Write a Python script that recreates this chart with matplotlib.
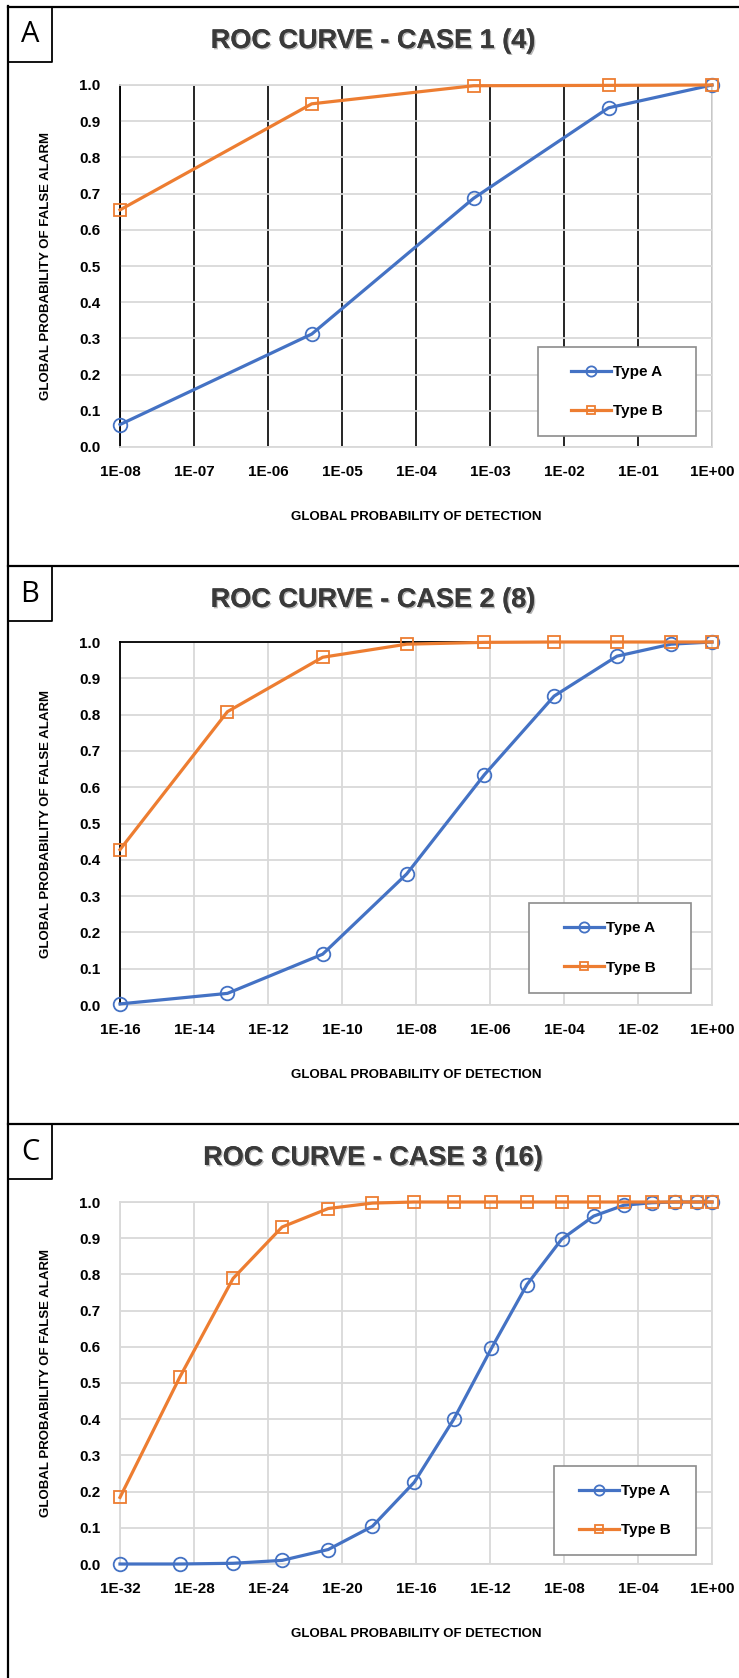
import numpy as np
import matplotlib
matplotlib.use("Agg")
import matplotlib.pyplot as plt
from matplotlib import font_manager
from matplotlib.lines import Line2D
from matplotlib.patches import Rectangle
from matplotlib.ticker import FixedLocator, FuncFormatter, NullLocator
import matplotlib.patheffects as pe

# ---------------- data ----------------
titles = ["ROC CURVE - CASE 1 (4)", "ROC CURVE - CASE 2 (8)", "ROC CURVE - CASE 3 (16)"]
panel_letters = ["A", "B", "C"]
x_label = "GLOBAL PROBABILITY OF DETECTION"
y_label = "GLOBAL PROBABILITY OF FALSE ALARM"
series_names = ["Type A", "Type B"]

case1_x = [1e-8, 3.9e-6, 6.0e-4, 4.0e-2, 1.0]
case1_type_a = [0.062, 0.312, 0.687, 0.937, 1.0]
case1_type_b = [0.655, 0.948, 0.998, 0.999, 1.0]
case1_tick_exp = [-8, -7, -6, -5, -4, -3, -2, -1, 0]

case2_x = [1e-16, 8e-14, 3e-11, 5.6e-9, 7e-7, 5.4e-5, 2.7e-3, 7.8e-2, 1.0]
case2_type_a = [0.003, 0.032, 0.14, 0.361, 0.634, 0.851, 0.961, 0.994, 1.0]
case2_type_b = [0.428, 0.808, 0.958, 0.994, 0.999, 1.0, 1.0, 1.0, 1.0]
case2_tick_exp = [-16, -14, -12, -10, -8, -6, -4, -2, 0]

case3_x = [1e-32, 1.7e-29, 1.3e-26, 5.8e-24, 1.8e-21, 4.4e-19, 8.1e-17, 1.1e-14,
           1.2e-12, 1.0e-10, 7.4e-9, 4.0e-7, 1.7e-5, 5.5e-4, 1.0e-2, 1.5e-1, 1.0]
case3_type_a = [0.0, 0.0, 0.002, 0.01, 0.04, 0.104, 0.226, 0.40,
                0.596, 0.772, 0.897, 0.961, 0.991, 0.998, 1.0, 1.0, 1.0]
case3_type_b = [0.184, 0.516, 0.789, 0.931, 0.982, 0.997, 1.0, 1.0,
                1.0, 1.0, 1.0, 1.0, 1.0, 1.0, 1.0, 1.0, 1.0]
case3_tick_exp = [-32, -28, -24, -20, -16, -12, -8, -4, 0]

y_ticks = [0.0, 0.1, 0.2, 0.3, 0.4, 0.5, 0.6, 0.7, 0.8, 0.9, 1.0]

# ---------------- style ----------------
BLUE = "#4472C4"
ORANGE = "#ED7D31"
GRID = "#d9d9d9"

def has_font(name):
    try:
        font_manager.findfont(font_manager.FontProperties(family=name),
                              fallback_to_default=False)
        return True
    except Exception:
        return False

NARROW_OK = has_font("Liberation Sans Narrow")
narrow_family = ["Liberation Sans Narrow", "DejaVu Sans"] if NARROW_OK else ["Liberation Sans", "DejaVu Sans"]
label_size = 11.5 if NARROW_OK else 9.5
base_family = ["Liberation Sans", "DejaVu Sans"]

plt.rcParams["font.family"] = base_family

W, H = 739, 1678
fig = plt.figure(figsize=(W / 100, H / 100), dpi=100)

def fx(px):
    return px / W

def fy(py):
    return 1 - py / H

# panel layout in pixels
panels = [
    dict(top=7, axes=(120, 85, 712, 447), title_y=41, legend=(538, 347, 696, 436),
         vgrid="black", spines=dict(left="black", top=GRID, right=GRID, bottom=GRID)),
    dict(top=566, axes=(120, 642, 712, 1005), title_y=600, legend=(529, 903, 691, 993),
         vgrid=GRID, spines=dict(left="black", top="black", right=GRID, bottom=GRID)),
    dict(top=1124, axes=(120, 1202, 712, 1564), title_y=1158, legend=(554, 1466, 696, 1555),
         vgrid=GRID, spines=dict(left=GRID, top=GRID, right=GRID, bottom=GRID)),
]
data = [
    (case1_x, case1_type_a, case1_type_b, case1_tick_exp),
    (case2_x, case2_type_a, case2_type_b, case2_tick_exp),
    (case3_x, case3_type_a, case3_type_b, case3_tick_exp),
]

# outer frame lines
fig.add_artist(Line2D([fx(8), fx(8)], [fy(6), fy(H + 5)], color="black", lw=1.6,
                      transform=fig.transFigure))
for i, p in enumerate(panels):
    t = p["top"]
    fig.add_artist(Line2D([fx(8), fx(W + 5)], [fy(t), fy(t)], color="black", lw=1.6,
                          transform=fig.transFigure))
    # letter box
    fig.add_artist(Line2D([fx(8), fx(52), fx(52)], [fy(t + 55), fy(t + 55), fy(t)],
                          color="black", lw=1.3, transform=fig.transFigure))
    fig.text(fx(30), fy(t + 28), panel_letters[i], ha="center", va="center",
             fontsize=21, family=["Open Sans", "DejaVu Sans"], color="black")
    # title
    fig.text(fx(373), fy(p["title_y"]), titles[i], ha="center", va="center",
             fontsize=19.5, fontweight="bold", color="#3a3a3a", family=base_family,
             path_effects=[pe.withSimplePatchShadow(offset=(1.0, -1.0),
                                                    shadow_rgbFace="#7f7f7f", alpha=0.55),
                           pe.Normal()])

fmt = FuncFormatter(lambda v, pos: "1E{:+03d}".format(int(round(np.log10(v)))))

for i, p in enumerate(panels):
    x0, y0, x1, y1 = p["axes"]
    ax = fig.add_axes([fx(x0), fy(y1), fx(x1 - x0), (y1 - y0) / H])
    xs, ya, yb, texp = data[i]
    ax.set_xscale("log")
    ax.set_xlim(10.0 ** texp[0], 10.0 ** texp[-1])
    ax.set_ylim(0, 1)
    ax.xaxis.set_major_locator(FixedLocator([10.0 ** e for e in texp]))
    ax.xaxis.set_minor_locator(NullLocator())
    ax.xaxis.set_major_formatter(fmt)
    ax.set_yticks(y_ticks)
    ax.set_yticklabels(["{:.1f}".format(v) for v in y_ticks])
    ax.tick_params(axis="both", length=0, labelsize=11)
    ax.tick_params(axis="y", pad=14)
    ax.tick_params(axis="x", pad=13)
    for lab in ax.get_xticklabels() + ax.get_yticklabels():
        lab.set_fontweight("bold")
    ax.set_axisbelow(True)
    ax.yaxis.grid(True, color=GRID, lw=1.3)
    ax.xaxis.grid(True, color=p["vgrid"], lw=1.3 if p["vgrid"] == GRID else 1.2)
    for side, c in p["spines"].items():
        ax.spines[side].set_color(c)
        ax.spines[side].set_linewidth(1.3)

    la, = ax.plot(xs, ya, color=BLUE, lw=2.3, marker="o", ms=9.8, mfc="none",
                  mec=BLUE, mew=1.3, clip_on=False, zorder=3, label=series_names[0])
    lb, = ax.plot(xs, yb, color=ORANGE, lw=2.3, marker="s", ms=8.5, mfc="none",
                  mec=ORANGE, mew=1.3, clip_on=False, zorder=3, label=series_names[1])

    ax.set_xlabel(x_label, fontsize=label_size, fontweight="bold", family=narrow_family,
                  va="center")
    ax.xaxis.set_label_coords(0.5, -70 / (y1 - y0))
    ax.set_ylabel(y_label, fontsize=label_size, fontweight="bold", family=narrow_family,
                  va="center")
    ax.yaxis.set_label_coords(-74 / (x1 - x0), 0.5)

    # legend frame + legend
    lx0, ly0, lx1, ly1 = p["legend"]
    w_ax = x1 - x0
    h_ax = y1 - y0
    ax.add_patch(Rectangle(((lx0 - x0) / w_ax, (y1 - ly1) / h_ax),
                           (lx1 - lx0) / w_ax, (ly1 - ly0) / h_ax,
                           transform=ax.transAxes, facecolor="white",
                           edgecolor="#8c8c8c", lw=1.2, zorder=4))
    cx = ((lx0 + lx1) / 2 - x0) / w_ax
    cy = (y1 - (ly0 + ly1) / 2) / h_ax
    leg = ax.legend(handles=[la, lb], loc="center", bbox_to_anchor=(cx, cy),
                    frameon=False, prop=dict(family=base_family, weight="bold", size=11),
                    labelspacing=1.65, handlelength=2.6, handletextpad=0.15,
                    markerscale=0.75, borderpad=0)
    leg.set_zorder(5)

fig.savefig("out.png", dpi=100, facecolor="white")
